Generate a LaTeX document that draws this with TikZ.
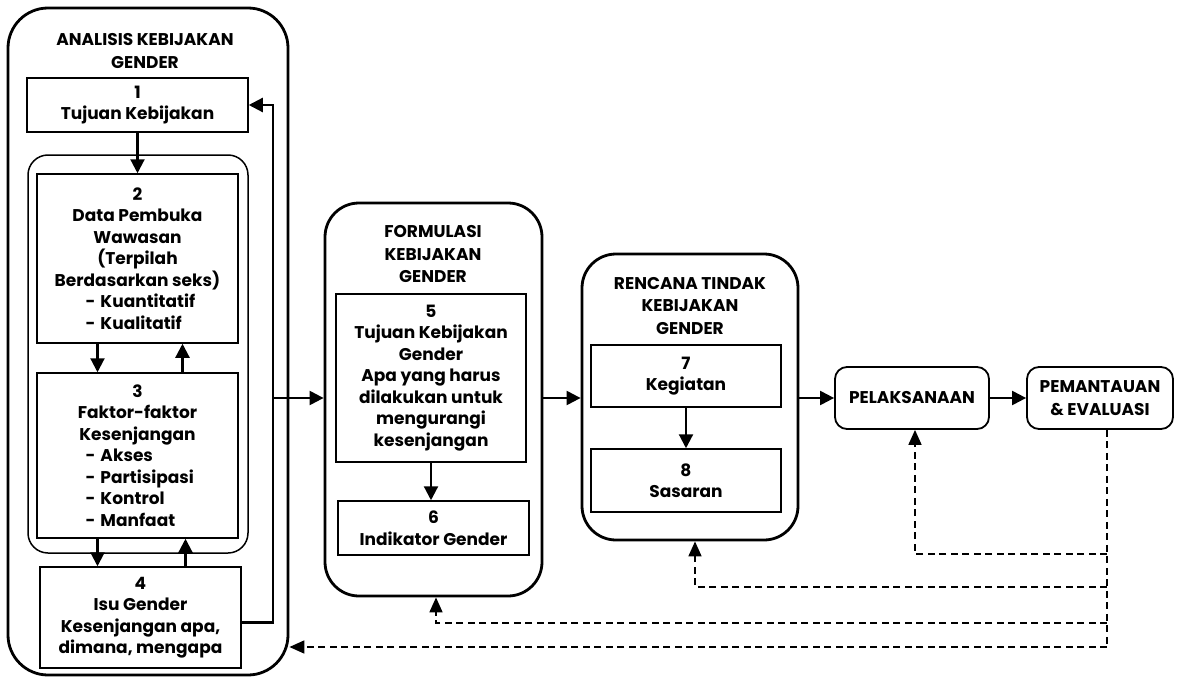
\documentclass[tikz,border=0pt]{standalone}
\usepackage{fontspec}
\setmainfont{Poppins}
\usepackage{tikz}
\usetikzlibrary{positioning, arrows.meta, calc}
\tikzset{main box/.style={rectangle, draw, line width=1.5pt, align=center, inner sep=2pt, font=\bfseries\fontsize{17}{21.5}\selectfont},
	group box/.style={rectangle, draw, line width=2.8pt, rounded corners=#1},
	group box/.default=34pt,
	title/.style={align=center, font=\bfseries\fontsize{17}{22.5}\selectfont},
	arr/.style={-{Triangle[length=14pt,width=14pt]}, line width=2.2pt},
	back/.style={-{Triangle[length=15pt,width=13pt]}, line width=1.7pt, dash pattern=on 7pt off 4.5pt},}
\newcommand{\litem}[1]{\makebox[104pt][l]{\makebox[15pt][l]{-}#1}}

\begin{document}
\begin{tikzpicture}[x=1pt, y=-1pt]
	\useasboundingbox (0,0) rectangle (1178,677);
	% Analisis
	\node[group box=40pt, minimum width=280, minimum height=667] (ana) at (148,341.5) {};
	\node[title] (tana) at (145,51) {ANALISIS KEBIJAKAN\\GENDER};
	\node[group box=20pt, line width=1.5pt, minimum width=220, minimum height=398] (grp) at (138,354) {};
	\node[main box, minimum width=221, minimum height=54] (b1) at (137.5,105) {1\\Tujuan Kebijakan};
	\node[main box, minimum width=201, minimum height=169] (b2) at (137.5,258.5) {2\\Data Pembuka\\Wawasan\\(Terpilah\\Berdasarkan seks)\\\litem{Kuantitatif}\\\litem{Kualitatif}};
	\node[main box, minimum width=201, minimum height=165] (b3) at (137.5,455.5) {3\\Faktor-faktor\\Kesenjangan\\\litem{Akses}\\\litem{Partisipasi}\\\litem{Kontrol}\\\litem{Manfaat}};
	\node[main box, minimum width=201, minimum height=101] (b4) at (140.5,617.5) {4\\Isu Gender\\Kesenjangan apa,\\dimana, mengapa};
	% Formulasi
	\node[group box, minimum width=217, minimum height=393] (frm) at (433.5,399.5) {};
	\node[title] (tfrm) at (433,254) {FORMULASI\\KEBIJAKAN\\GENDER};
	\node[main box, minimum width=190, minimum height=168] (b5) at (431,378) {5\\Tujuan Kebijakan\\Gender\\Apa yang harus\\dilakukan untuk\\mengurangi\\kesenjangan};
	\node[main box, minimum width=191, minimum height=54] (b6) at (433.5,528) {6\\Indikator Gender};
	% Rencana tindak
	\node[group box, minimum width=216, minimum height=286] (rtk) at (690,397) {};
	\node[title] (trtk) at (690,306) {RENCANA TINDAK\\KEBIJAKAN\\GENDER};
	\node[main box, minimum width=190, minimum height=62] (b7) at (686,376) {7\\Kegiatan};
	\node[main box, minimum width=190, minimum height=63] (b8) at (686,480.5) {8\\Sasaran};
	% Pelaksanaan, pemantauan
	\node[group box=12pt, line width=1.8pt, minimum width=154, minimum height=62, title] (pel) at (912,398) {PELAKSANAAN};
	\node[group box=12pt, line width=1.8pt, minimum width=146, minimum height=62, title] (pem) at (1100,398) {PEMANTAUAN\\\& EVALUASI};
	% Junctions
	\coordinate (jn) at (273,398);
	\coordinate (r1) at (1107,554);
	\coordinate (r2) at (1107,587);
	\coordinate (r3) at (1107,623);
	\coordinate (r4) at (1107,647);
	% Paths
	\draw[arr] (b1) -- (b2);
	\draw[arr] ([xshift=-40pt]b2.south) -- ([xshift=-40pt]b3.north);
	\draw[arr] ([xshift=45pt]b3.north) -- ([xshift=45pt]b2.south);
	\draw[arr] ([xshift=-40pt]b3.south) -- ([xshift=-40pt]b3.south |- b4.north);
	\draw[arr] ([xshift=45pt]b4.north) -- ([xshift=45pt]b4.north |- b3.south);
	\draw[arr] ([yshift=-5pt]b4.east) -| (jn) |- (b1.east);
	\draw[arr] (jn) -- (jn -| frm.west);
	\draw[arr] (b5.south) -- (b5.south |- b6.north);
	\draw[arr] (frm.east |- jn) -- (rtk.west |- jn);
	\draw[arr] (b7) -- (b8);
	\draw[arr] (rtk.east |- pel) -- (pel);
	\draw[arr] (pel) -- (pem);
	% Feedback
	\draw[back, -] (pem.south -| r4) -- (r4);
	\draw[back] (r4) -- (r4 -| ana.east);
	\draw[back] (r1) -| ([xshift=3pt]pel.south);
	\draw[back] (r2) -| ([xshift=5pt]rtk.south);
	\draw[back] (r3) -| ([xshift=2.5pt]frm.south);
\end{tikzpicture}
\end{document}
